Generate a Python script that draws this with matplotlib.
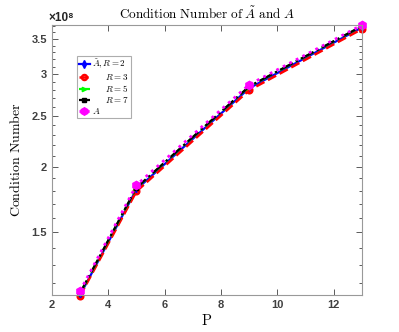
import numpy as np
import matplotlib
matplotlib.use('Agg')
import matplotlib.pyplot as plt

plt.rcParams['mathtext.fontset'] = 'cm'

# data
P = [3, 5, 9, 13]
cond_r2 = [1.140e8, 1.810e8, 2.820e8, 3.680e8]
cond_r3 = [1.136e8, 1.795e8, 2.795e8, 3.655e8]
cond_r5 = [1.148e8, 1.822e8, 2.840e8, 3.700e8]
cond_r7 = [1.150e8, 1.824e8, 2.842e8, 3.702e8]
cond_a = [1.160e8, 1.845e8, 2.865e8, 3.720e8]

ytick_vals = [1.5e8, 2e8, 2.5e8, 3e8, 3.5e8]
ytick_labels = ['1.5', '2', '2.5', '3', '3.5']
xtick_vals = [2, 4, 6, 8, 10, 12]

fig = plt.figure(figsize=(3.99, 3.32), dpi=100)
ax = fig.add_axes([0.130, 0.1114, 0.777, 0.8133])

ax.plot(P, cond_r2, '-', color='blue', marker='d', lw=1.6, ms=4, label=r'$\tilde{A}, R=2$', clip_on=False)
ax.plot(P, cond_r3, '--', color='red', marker='o', lw=1.8, ms=4, mfc='none', mew=1.8, label=r'$\quad\ \ R=3$', clip_on=False)
ax.plot(P, cond_r5, '-.', color='#00ff00', marker='>', lw=1.6, ms=3.5, label=r'$\quad\ \ R=5$', clip_on=False)
ax.plot(P, cond_r7, '-.', color='black', marker='s', lw=1.6, ms=3.5, label=r'$\quad\ \ R=7$', clip_on=False)
ax.plot(P, cond_a, ':', color='magenta', marker='h', lw=2, ms=6, label=r'$A$', clip_on=False)

ax.set_yscale('log')
ax.set_xlim(2, 13)
ax.set_ylim(1.14e8, 3.72e8)
ax.set_yticks(ytick_vals)
ax.set_yticklabels(ytick_labels)
ax.set_yticks([v * 1e7 for v in range(12, 38) if v % 5 != 0], minor=True)
ax.yaxis.set_minor_formatter(matplotlib.ticker.NullFormatter())
ax.set_xticks(xtick_vals)
ax.set_xticklabels([str(v) for v in xtick_vals])

ax.tick_params(which='both', direction='in', top=True, right=True, colors='0.25',
               labelsize=8, width=0.6)
ax.tick_params(which='major', length=4)
ax.tick_params(which='minor', length=2)
for lab in ax.get_xticklabels() + ax.get_yticklabels():
    lab.set_fontweight('bold')
    lab.set_family('Liberation Sans')
for s in ax.spines.values():
    s.set_color('0.6')
    s.set_linewidth(0.8)

ax.text(-0.01, 1.005, '\u00d710\u2078', transform=ax.transAxes, fontsize=8.5,
        ha='left', va='bottom', color='0.15', fontweight='bold',
        family=['Liberation Sans', 'DejaVu Sans'])

ax.set_title(r'$\mathrm{Condition\ Number\ of\ }\tilde{A}\mathrm{\ and\ }A$', fontsize=9.5, pad=4)
ax.set_xlabel(r'$\mathrm{P}$', fontsize=10.5, labelpad=2)
ax.set_ylabel(r'$\mathrm{Condition\ Number}$', fontsize=10, labelpad=6)

leg = ax.legend(loc='upper left', bbox_to_anchor=(0.08, 0.885), fontsize=6.5,
                frameon=True, fancybox=False, edgecolor='0.6', handlelength=1.2,
                handletextpad=0.3, borderpad=0.25, labelspacing=0.1, borderaxespad=0,
                markerscale=0.9)
leg.get_frame().set_linewidth(0.8)

fig.savefig('out.png', dpi=100)
